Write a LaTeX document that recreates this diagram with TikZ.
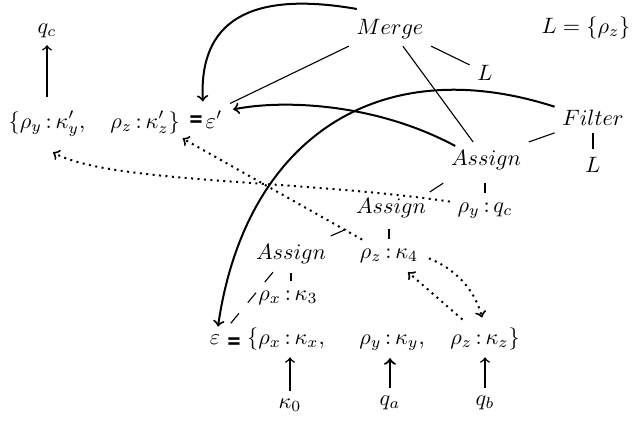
\documentclass[tikz,border=0pt]{standalone}
\usepackage{graphicx}
\usepackage{fontspec}
\newfontfamily\djsans{DejaVu Sans}
\usetikzlibrary{calc}
\newcommand{\bolderq}{\scalebox{0.8}[1.0]{\djsans\bfseries =}}
\begin{document}
\begin{tikzpicture}[x=0.45pt,y=-0.45pt,
  lbl/.style={anchor=base, inner sep=3.33pt},
  tree/.style={line width=0.5pt},
  vbar/.style={line width=0.7pt},
  flow/.style={->, line width=0.9pt},
  dflow/.style={->, line width=0.9pt, dotted},
  up/.style={->, line width=0.7pt}]
\useasboundingbox (0,0) rectangle (641,422);
% nodes
\node[lbl] (qc) at (47,33) {$q_c$};
\node[lbl] (sety) at (47,128) {$\{\rho_y{\,:\,}\kappa'_y,$};
\node[lbl] (setz) at (145,128) {$\rho_z{\,:\,}\kappa'_z\}$};
\node[lbl] (eqa) at (196,126) {\bolderq};
\node[lbl] (epsp) at (214,128) {$\varepsilon'$};
\node[lbl] (merge) at (390,34) {$Merge$};
\node[lbl] (ldef) at (586,33) {$L=\{\rho_z\}$};
\node[lbl] (la) at (485,80) {$L$};
\node[lbl] (filter) at (593,125) {$Filter$};
\node[lbl] (lb) at (593,172) {$L$};
\node[lbl] (asa) at (486,165) {$Assign$};
\node[lbl] (ryqc) at (485,212) {$\rho_y{\,:\,}q_c$};
\node[lbl] (asb) at (391,213) {$Assign$};
\node[lbl] (rzk4) at (389,258) {$\rho_z{\,:\,}\kappa_4$};
\node[lbl] (asc) at (291,259) {$Assign$};
\node[lbl] (rxk3) at (288,300) {$\rho_x{\,:\,}\kappa_3$};
\node[lbl] (eps) at (215,344) {$\varepsilon$};
\node[lbl] (eqb) at (234,348) {\bolderq};
\node[lbl] (rxkx) at (286,344) {$\{\rho_x{\,:\,}\kappa_x,$};
\node[lbl] (ryky) at (392,344) {$\rho_y{\,:\,}\kappa_y,$};
\node[lbl] (rzkz) at (485,344) {$\rho_z{\,:\,}\kappa_z\}$};
\node[lbl] (k0) at (290,408) {$\kappa_0$};
\node[lbl] (qa) at (390,405) {$q_a$};
\node[lbl] (qb) at (485,405) {$q_b$};
% up arrows
\draw[up] (k0.north) -- (k0.north |- rxkx.south);
\draw[up, line width=1pt] (qa.north) -- (qa.north |- ryky.south);
\draw[up] (qb.north) -- (qb.north |- rzkz.south);
\draw[up, shorten <=3pt] (sety.north) -- (qc.south);
% tree edges
\draw[tree] (merge.south west) -- (epsp.north east);
\draw[tree] (merge.south east) -- (la);
\draw[tree] (merge) -- (asa);
\draw[tree] (filter.south west) -- (asa.north east);
\draw[vbar] (filter) -- (lb);
\draw[tree] ([shift={(0,6)}]asa.south west) -- ([shift={(-4,2)}]asb.north east);
\draw[vbar, shorten <=2.7pt, shorten >=0.9pt] (ryqc.north |- asa.south) -- (ryqc.north);
\draw[tree] ([shift={(-2,4)}]asb.south west) -- ([shift={(-3,0)}]asc.north east);
\draw[vbar, shorten <=1.5pt, shorten >=0.5pt] (rzk4.north |- asb.south) -- (rzk4.north);
\draw[vbar, shorten <=1pt, shorten >=0.9pt] (asc.south) -- (asc.south |- rxk3.north);
\draw[tree, dash pattern=on 5.8pt off 6.2pt] ([shift={(-18,1)}]asc.south) -- (eps.north east);
% thick flows
\draw[flow] ([shift={(8,-2)}]merge.north west) .. controls +(-109,-19) and +(-4,-79) .. ([shift={(5,-2)}]epsp.north west);
\draw[flow] ([shift={(12,4)}]asa.north west) .. controls +(-80,-43) and +(50,-10) .. ([shift={(3,6)}]epsp.north east);
\draw[flow] ([shift={(0,5)}]filter.north west) .. controls +(-177,-57) and +(27,-187) .. ([shift={(3,0)}]eps.north);
% dotted flows
\draw[dflow] ([shift={(0,7)}]ryqc.north west) .. controls +(-150,-22) and +(57,31) .. ([shift={(6,8)}]sety.south);
\draw[dflow] ([shift={(10,-1)}]rzk4.north west) -- ([shift={(-5,-3)}]setz.south east);
\draw[dflow] ([shift={(3,3)}]rzk4.east) .. controls +(25,10) and +(-8,-30) .. ([shift={(-3,-2)}]rzkz.north);
\draw[dflow] ([shift={(20,0)}]rzkz.north west) -- ([shift={(19,2)}]rzk4.south);
\end{tikzpicture}
\end{document}
